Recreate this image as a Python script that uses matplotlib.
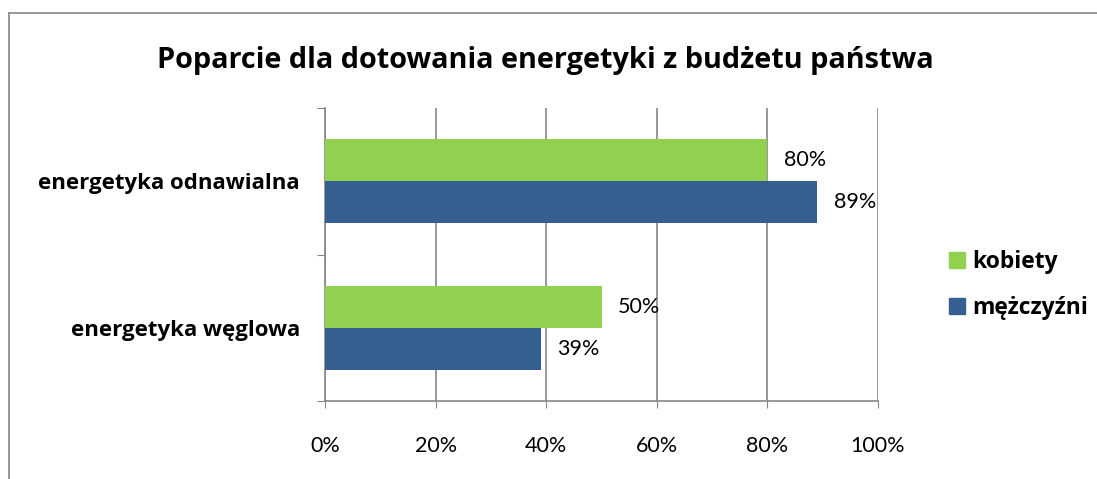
import numpy as np
import matplotlib.pyplot as plt
from matplotlib.lines import Line2D
from matplotlib.patches import Patch

plt.rcParams['font.family'] = ['Lato', 'DejaVu Sans']
bold_font = ['Open Sans', 'DejaVu Sans']

# Data
categories = ["energetyka węglowa", "energetyka odnawialna"]
kobiety = [50, 80]
mezczyzni = [39, 89]
series_names = ["kobiety", "mężczyźni"]
green = "#92D050"
blue = "#365F91"

fig = plt.figure(figsize=(10.97, 4.79), dpi=100)
ax = fig.add_axes([0.2963, 0.1628, 0.5041, 0.6117])

y = np.arange(len(categories))
h = 0.286
ax.barh(y + h / 2, kobiety, height=h, color=green, zorder=3)
ax.barh(y - h / 2, mezczyzni, height=h, color=blue, zorder=3)

for yi, v in zip(y, kobiety):
    ax.text(v + 3.0, yi + h / 2, f"{v}%", va="center", ha="left", fontsize=15.5)
for yi, v in zip(y, mezczyzni):
    ax.text(v + 3.0, yi - h / 2, f"{v}%", va="center", ha="left", fontsize=15.5)

ax.set_xlim(0, 100)
ax.set_ylim(-0.5, 1.5)
ax.set_xticks(np.arange(0, 101, 20))
ax.set_xticklabels([f"{t}%" for t in range(0, 101, 20)], fontsize=15.5)
ax.tick_params(axis="x", length=5, color="#868686", pad=20)
ax.grid(axis="x", color="#868686", linewidth=1.2, zorder=0)

# category ticks on boundaries, labels in the middle
ax.set_yticks([-0.5, 0.5, 1.5])
ax.set_yticklabels([])
ax.set_yticks(y, minor=True)
ax.set_yticklabels(categories, minor=True, fontsize=16, fontweight="bold",
                   family=bold_font)
ax.tick_params(axis="y", which="major", length=6, color="#868686")
ax.tick_params(axis="y", which="minor", length=0, pad=18)

for s in ["top", "right"]:
    ax.spines[s].set_visible(False)
for s in ["left", "bottom"]:
    ax.spines[s].set_color("#868686")
    ax.spines[s].set_linewidth(1.2)

fig.suptitle("Poparcie dla dotowania energetyki z budżetu państwa",
             x=0.497, y=0.905, fontsize=20.8, fontweight="bold", family=bold_font)

handles = [Patch(color=green), Patch(color=blue)]
fig.legend(handles, series_names, loc="center left", bbox_to_anchor=(0.846, 0.405),
           frameon=False, prop={"size": 16.5, "weight": "bold", "family": bold_font},
           handlelength=0.7, handleheight=0.7, handletextpad=0.35, labelspacing=1.0)

# outer frame (partially cropped)
fig.add_artist(Line2D([0.0082, 1.0], [0.9729, 0.9729], transform=fig.transFigure,
                      color="#868686", linewidth=1.2))
fig.add_artist(Line2D([0.0082, 0.0082], [0.0, 0.9729], transform=fig.transFigure,
                      color="#868686", linewidth=1.2))

fig.savefig("out.png", dpi=100)
